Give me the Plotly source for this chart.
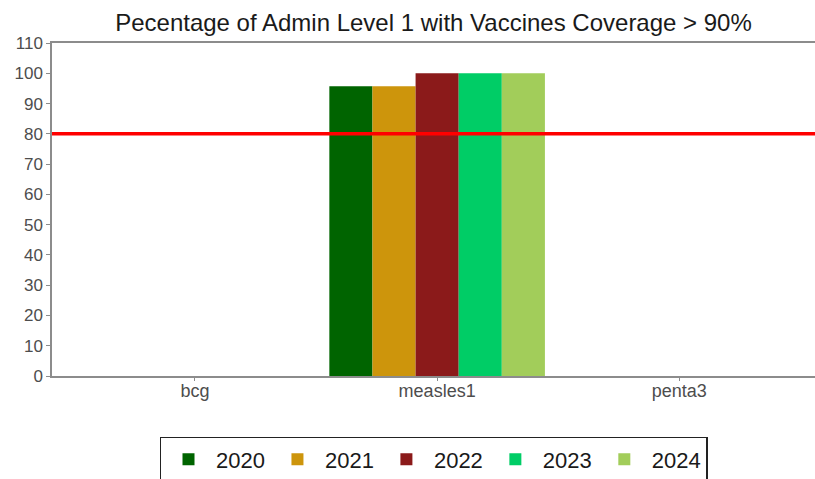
import plotly.graph_objects as go

# 数据
vaccines = ["bcg", "measles1", "penta3"]
years = ["2020", "2021", "2022", "2023", "2024"]
pct_2020 = [0, 95.7, 0]
pct_2021 = [0, 95.7, 0]
pct_2022 = [0, 100, 0]
pct_2023 = [0, 100, 0]
pct_2024 = [0, 100, 0]
threshold = 80
year_colors = ["#006400", "#CD950C", "#8B1A1A", "#00CD66", "#A2CD5A"]

series = [pct_2020, pct_2021, pct_2022, pct_2023, pct_2024]

fig = go.Figure()
for year, vals, col in zip(years, series, year_colors):
    fig.add_trace(go.Bar(
        x=vaccines, y=vals, name=year,
        marker=dict(color=col, line_width=0),
    ))

# 阈值线
fig.add_shape(type="line", xref="paper", yref="y",
              x0=0, x1=1, y0=threshold, y1=threshold,
              line=dict(color="#FF0000", width=3.5))

axis_col = "#8c8c8c"
fig.update_layout(
    width=815, height=479,
    margin=dict(l=52, r=0, t=43, b=103, autoexpand=False),
    paper_bgcolor="white", plot_bgcolor="white",
    font=dict(family="Liberation Sans, Arial", color="#4d4d4d"),
    title=dict(text="Pecentage of Admin Level 1 with Vaccines Coverage > 90%",
               x=0.5, xref="paper", xanchor="center",
               y=0.953, yref="container", yanchor="middle",
               font=dict(size=24, color="#1a1a1a")),
    barmode="group", bargap=0.11, bargroupgap=0,
    showlegend=True,
    legend=dict(orientation="h", x=0.5, xanchor="center",
                y=-0.183, yanchor="top",
                font=dict(size=22, color="#1a1a1a"),
                bordercolor="#222", borderwidth=1.5,
                itemwidth=45, traceorder="normal"),
    xaxis=dict(range=[-0.59, 2.56], showline=True, linecolor=axis_col,
               linewidth=1.5, mirror=True, ticks="outside", ticklen=3,
               tickcolor=axis_col, showgrid=False, automargin=False,
               ticklabelstandoff=-5,
               tickfont=dict(size=18, color="#4d4d4d")),
    yaxis=dict(range=[0, 110], dtick=10, showline=True, linecolor=axis_col,
               linewidth=1.5, mirror=True, ticks="outside", ticklen=4,
               tickcolor=axis_col, showgrid=False, zeroline=False,
               automargin=False,
               tickfont=dict(size=17, color="#4d4d4d")),
)

# 去掉页面默认边距，让图正好铺满窗口
fig.write_html("out.html", config={"displayModeBar": False},
               post_script="document.body.style.margin='0';document.body.style.overflow='hidden';")
